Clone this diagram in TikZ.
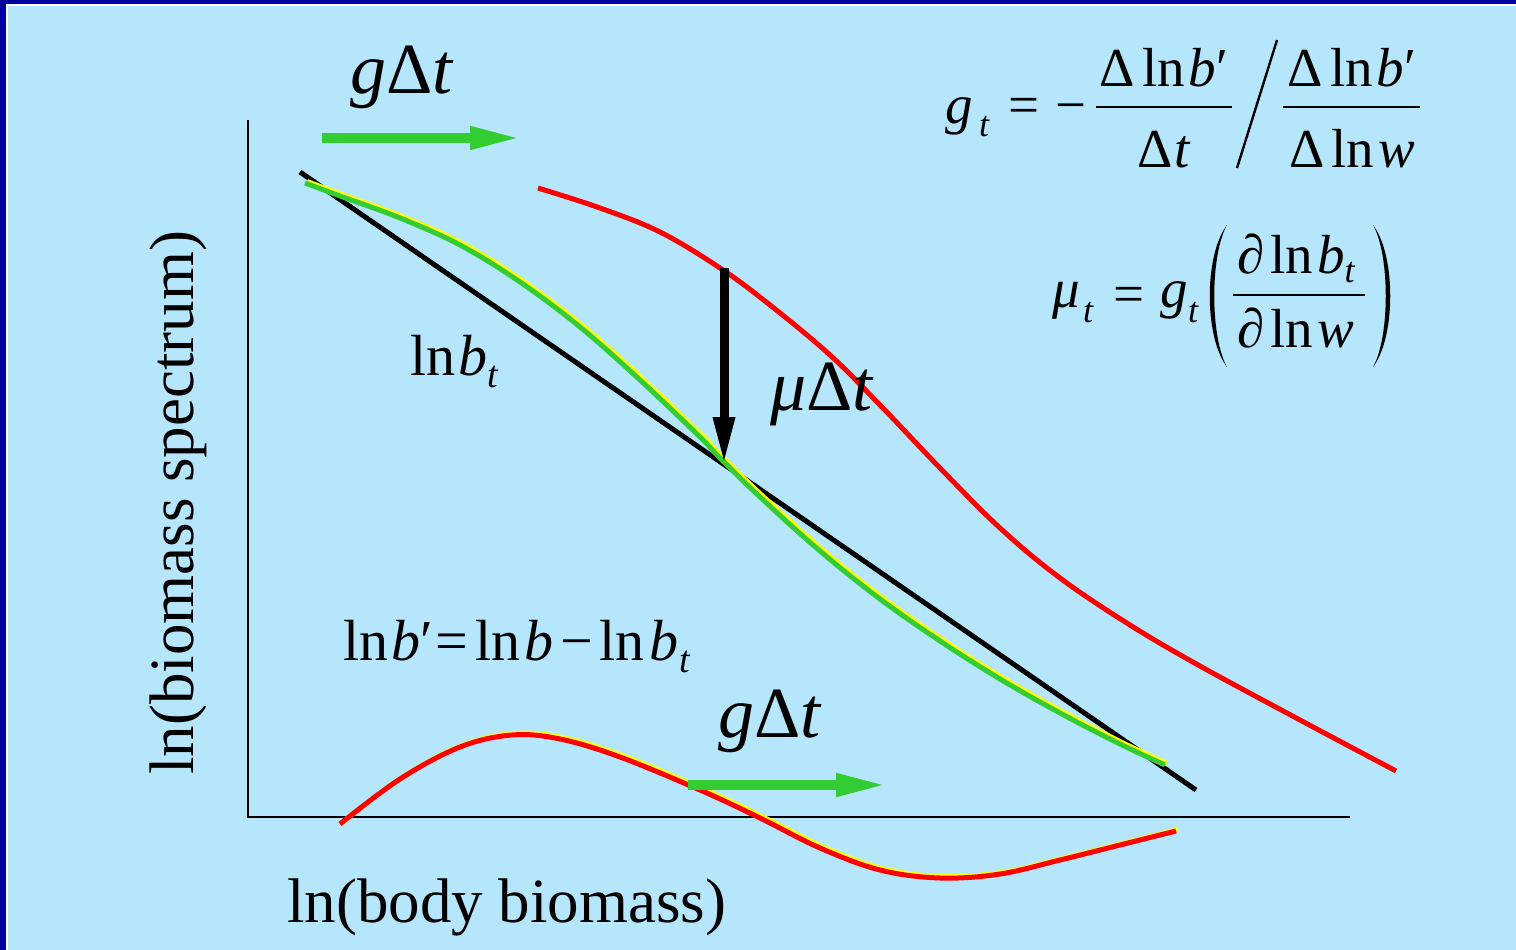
\documentclass[tikz,border=0pt]{standalone}
\usepackage{fontspec}
\setmainfont{Liberation Serif}
\usetikzlibrary{arrows.meta}
\newcommand\fs[1]{\fontsize{#1}{#1}\selectfont}
\newcommand\subt[2]{\raisebox{#1}{\fs{#2}\textit{t}}}
\definecolor{bg}{HTML}{B6E6FC}
\definecolor{framecol}{HTML}{0000A0}
\definecolor{grn}{HTML}{33CC33}
\definecolor{ylw}{HTML}{FFFF00}
\definecolor{rd}{HTML}{FF0000}
\begin{document}
\begin{tikzpicture}[x=1pt,y=-1pt,
  axisline/.style={line width=2pt,black},
  blkline/.style={line width=5pt,black},
  grnline/.style={line width=5pt,grn},
  ylwline/.style={line width=5pt,ylw},
  redline/.style={line width=5pt,rd},
  garrow/.style={line width=10pt,grn,-{Triangle[length=52pt,width=21pt]}},
  karrow/.style={line width=9pt,black,-{Triangle[length=48pt,width=20pt]}},
  lab/.style={inner sep=0pt,anchor=base west,text=black},
  fpart/.style={inner sep=0pt,anchor=base west,text=black,font=\fs{55}},
  fsub/.style={inner sep=0pt,anchor=base west,text=black,font=\fs{36}},
  frule/.style={line width=1.8pt,black},
  paren/.style={fill=black}]
\useasboundingbox (0,0) rectangle (1516,950);
\fill[bg] (0,0) rectangle (1516,950);
\fill[framecol] (0,0) rectangle (1516,4.5);
\fill[framecol] (0,0) rectangle (5.5,950);
\fill[white] (5.5,4.5) rectangle (1516,6.5);
\fill[white] (5.5,4.5) rectangle (7.5,950);
% axes
\coordinate (Ytop) at (248,120);
\coordinate (O) at (248,817);
\coordinate (Xend) at (1350,817);
\draw[axisline] (Ytop) -- (O) -- (Xend);
% straight black line
\coordinate (L1) at (300,172);
\coordinate (L2) at (1196,790);
\draw[blkline] (L1) -- (L2);
% green curve (with yellow shadow)
\def\gcurve{plot[smooth,tension=0.6] coordinates {(305,183) (340,196) (400,218) (460,245) (520,282) (580,327) (640,380) (700,437) (720,458) (760,497) (820,551) (880,599) (940,641) (1000,679) (1060,713) (1120,744) (1165,765)}}
\draw[ylwline,shift={(2,-1.5)}] \gcurve;
\draw[grnline] \gcurve;
% red curve
\draw[redline] plot[smooth,tension=0.6] coordinates {(538,188) (600,208) (660,232) (720,268) (770,305) (830,355) (880,405) (940,468) (1000,528) (1060,578) (1130,625) (1200,666) (1300,720) (1396,771)};
% bottom curve
\def\bcurve{plot[smooth,tension=0.6] coordinates {(340,824) (400,779) (460,747) (512,735) (560,739) (620,757) (700,790) (760,818) (820,848) (880,870) (940,878) (1000,874) (1060,860) (1120,845) (1176,831)}}
\draw[ylwline,shift={(2,-1.5)}] \bcurve;
\draw[redline] \bcurve;
% arrows
\coordinate (ga1s) at (322,138);
\coordinate (ga1e) at (522,138);
\draw[garrow] (ga1s) -- (ga1e);
\coordinate (ga2s) at (688,785);
\coordinate (ga2e) at (888,785);
\draw[garrow] (ga2s) -- (ga2e);
\coordinate (ka1s) at (724,268);
\coordinate (ka1e) at (724,465);
\draw[karrow] (ka1s) -- (ka1e);
% labels
\node[lab,font=\fs{72}] (gdtTop) at (350,93) {\textit{g}Δ\textit{t}};
\node[lab,font=\fs{72}] (gdtBot) at (718,737) {\textit{g}Δ\textit{t}};
\node[lab,font=\fs{72}] (mudt) at (770,410) {\textit{μ}Δ\textit{t}};
\node[lab,font=\fs{58}] (lnbt) at (410,375) {ln\kern3pt\textit{b}\subt{-12pt}{38}};
\node[lab,font=\fs{58}] (lnbp) at (343,660) {ln\kern3pt\textit{b}′\kern3pt=\kern7pt ln\kern4pt\textit{b}\kern7pt−\kern6pt ln\kern5pt\textit{b}\kern1pt\subt{-12pt}{38}};
\node[lab,font=\fs{63}] (xlab) at (287,922) {ln(body biomass)};
\node[lab,font=\fs{63},rotate=90] (ylab) at (193,775) {ln(biomass spectrum)};
% formula 1
\node[fpart] (f1g) at (945,124) {\textit{g}};
\node[fsub] (f1t) at (979,136) {\textit{t}};
\node[fpart] (f1eq) at (1008,123) {=};
\node[fpart] (f1mi) at (1055,123) {−};
\coordinate (f1a) at (1096,107);
\coordinate (f1b) at (1232,107);
\draw[frule] (f1a) -- (f1b);
\node[fpart,anchor=base] (f1n1) at (1164,86) {Δ\kern7pt ln\kern4pt\textit{b}′};
\node[fpart,anchor=base] (f1d1) at (1164,167) {Δ\kern1pt\textit{t}};
\coordinate (sl1) at (1237,168);
\coordinate (sl2) at (1277,40);
\draw[line width=2.4pt] (sl1) -- (sl2);
\coordinate (f1c) at (1283,107);
\coordinate (f1d) at (1420,107);
\draw[frule] (f1c) -- (f1d);
\node[fpart,anchor=base] (f1n2) at (1352,86) {Δ\kern7pt ln\kern4pt\textit{b}′};
\node[fpart,anchor=base] (f1d2) at (1352,167) {Δ\kern7pt ln\kern4pt\textit{w}};
% formula 2
\node[fpart] (f2mu) at (1052,307) {\textit{μ}};
\node[fsub] (f2t) at (1083,322) {\textit{t}};
\node[fpart] (f2eq) at (1113,312) {=};
\node[fpart] (f2g) at (1160,307) {\textit{g}};
\node[fsub] (f2t2) at (1188,322) {\textit{t}};
\fill[paren] (1227,225) .. controls (1204,255) and (1204,337) .. (1227,367)
  .. controls (1210,337) and (1210,255) .. cycle;
\fill[paren] (1373,225) .. controls (1396,255) and (1396,337) .. (1373,367)
  .. controls (1390,337) and (1390,255) .. cycle;
\coordinate (f2a) at (1233,295);
\coordinate (f2b) at (1365,295);
\draw[frule] (f2a) -- (f2b);
\node[fpart] (f2n) at (1237,273) {∂\kern6pt ln\kern4pt\textit{b}\subt{-9pt}{36}};
\node[fpart] (f2d) at (1237,347) {∂\kern6pt ln\kern4pt\textit{w}};
\end{tikzpicture}
\end{document}
